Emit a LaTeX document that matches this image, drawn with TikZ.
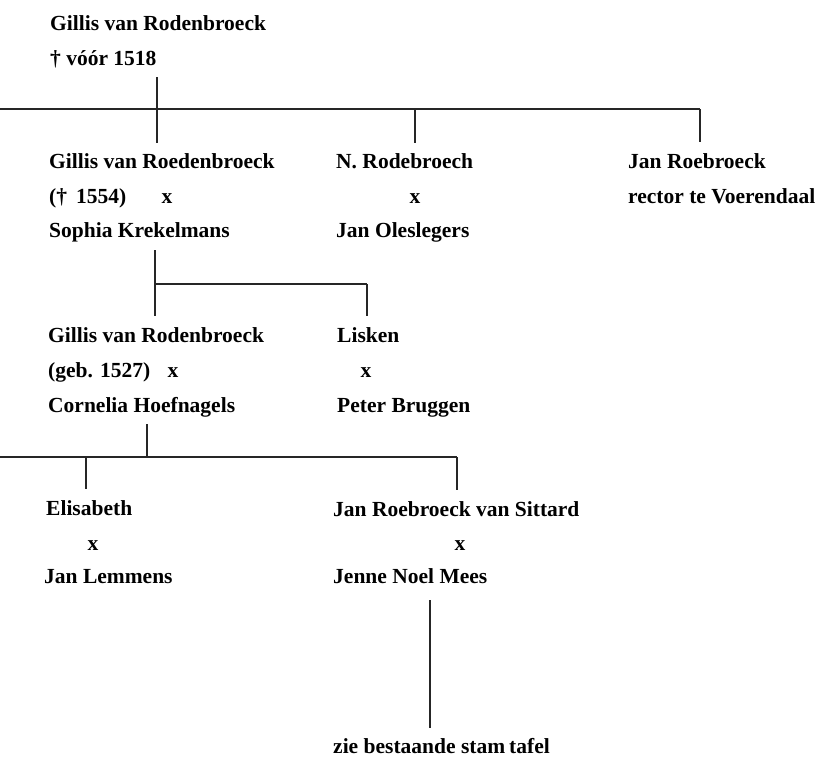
\documentclass[tikz,border=0pt]{standalone}
\usepackage{fontspec}
\setmainfont{Liberation Serif}
\usetikzlibrary{calc}
\tikzset{%
  every person/.style={anchor=base west,inner sep=0pt,font=\bfseries\fontsize{21.5}{26}\selectfont},
  person wed/.style={every person,anchor=base},
}

\begin{document}
\begin{tikzpicture}[x=1pt,y=-1pt,
            line/.style={line width=1.3pt,draw=black!85},
            ]
            \useasboundingbox (0,0) rectangle (826,758);
            % generation 1
            \node[every person] (g1) at (50,30) {Gillis van Rodenbroeck};
            \node[every person] (g1d) at (50,65) {† vóór 1518};
            % generation 2
            \node[every person] (g2) at (49,168) {Gillis van Roedenbroeck};
            \node[every person] (g2d) at (49,203) {(†\, 1554)};
            \node[person wed] (g2x) at (167,203) {x};
            \node[every person] (g2w) at (49,237) {Sophia Krekelmans};
            \node[every person] (nr) at (336,168) {N. Rodebroech};
            \node[person wed] (nrx) at (415,203) {x};
            \node[every person] (nrw) at (336,237) {Jan Oleslegers};
            \node[every person] (jr) at (628,168) {Jan Roebroeck};
            \node[every person] (jrd) at (628,203) {rector te Voerendaal};
            % generation 3
            \node[every person] (g3) at (48,342) {Gillis van Rodenbroeck};
            \node[every person] (g3d) at (48,377) {(geb. 1527)};
            \node[person wed] (g3x) at (173,377) {x};
            \node[every person] (g3w) at (48,412) {Cornelia Hoefnagels};
            \node[every person] (li) at (337,342) {Lisken};
            \node[person wed] (lix) at (366,377) {x};
            \node[every person] (liw) at (337,412) {Peter Bruggen};
            % generation 4
            \node[every person] (el) at (46,515) {Elisabeth};
            \node[person wed] (elx) at (93,550) {x};
            \node[every person] (elw) at (44,583) {Jan Lemmens};
            \node[every person] (js) at (333,516) {Jan Roebroeck van Sittard};
            \node[person wed] (jsx) at (460,550) {x};
            \node[every person] (jsw) at (333,583) {Jenne Noel Mees};
            \node[every person] (st) at (333,753) {zie bestaande stam\hspace{4pt}tafel};

            % family bars
            \coordinate (b1l) at (0,109);
            \coordinate (b1r) at (700,109);
            \coordinate (b2l) at (155,284);
            \coordinate (b2r) at (367,284);
            \coordinate (b3l) at (0,457);
            \coordinate (b3r) at (457,457);
            \draw[line] (b1l) -- (b1r);
            \draw[line] (b2l) -- (b2r);
            \draw[line] (b3l) -- (b3r);

            % descent lines
            \foreach \n/\x/\ya/\yb in {d1/157/77/143,d2/415/109/143,d3/700/109/142,
                                       d4/155/250/316,d5/367/284/316,
                                       d6/147/424/457,d7/86/457/489,d8/457/457/490,
                                       d9/430/600/728}
            {
              \coordinate (\n a) at (\x,\ya);
              \coordinate (\n b) at (\x,\yb);
              \draw[line] (\n a) -- (\n b);
            }
\end{tikzpicture}
\end{document}
